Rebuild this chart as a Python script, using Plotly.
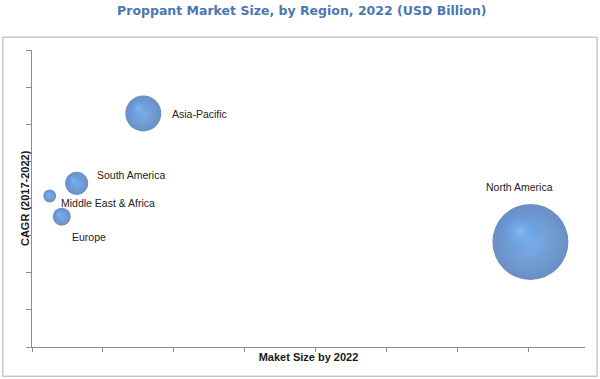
import plotly.graph_objects as go

regions = ["Asia-Pacific", "South America", "Middle East & Africa", "Europe", "North America"]
market_size = [1.57, 0.63, 0.25, 0.42, 7.03]
cagr = [6.29, 4.41, 4.07, 3.51, 2.83]
bubble_size = [36, 23, 13, 18, 76]

# label offsets (px) relative to bubble centre
label_dx = [27, 18, 9, 8, -11]
label_dy = [-1, 8, -7, -20, 55]
label_anchor = ["left", "left", "left", "left", "center"]

X_UNIT = 70.86   # px per x unit
Y_UNIT = 37.09   # px per y unit

fig = go.Figure()

# base spheres (marker.color = edge, gradient.color = centre)
fig.add_trace(go.Scatter(
    x=market_size, y=cagr, mode="markers",
    marker=dict(size=bubble_size, sizemode="diameter", color="#2a5fab",
                gradient=dict(type="radial", color="#418be2"),
                line=dict(width=0)),
    hoverinfo="text", text=regions, showlegend=False))

# highlight
hx = [x - 0.14 * s / X_UNIT for x, s in zip(market_size, bubble_size)]
hy = [y + 0.14 * s / Y_UNIT for y, s in zip(cagr, bubble_size)]
hs = [0.58 * s for s in bubble_size]
fig.add_trace(go.Scatter(
    x=hx, y=hy, mode="markers",
    marker=dict(size=hs, sizemode="diameter", color="rgba(65,139,226,0)",
                gradient=dict(type="radial", color="rgba(135,200,255,0.9)"),
                line=dict(width=0)),
    hoverinfo="skip", showlegend=False))

for r, x, y, dx, dy, anc in zip(regions, market_size, cagr, label_dx, label_dy, label_anchor):
    fig.add_annotation(x=x, y=y, text=r, showarrow=False, xanchor=anc, yanchor="middle",
                       xshift=dx, yshift=dy,
                       font=dict(family="Liberation Sans", size=10.5, color="#222222"))

# y-axis title
fig.add_annotation(xref="paper", yref="paper", x=-0.0135, y=0.5, text="<b>CAGR (2017-2022)</b>",
                   textangle=-90, showarrow=False, xanchor="center", yanchor="middle",
                   font=dict(family="Liberation Sans", size=11, color="#1a1a1a"))

fig.add_shape(type="rect", xref="paper", yref="paper",
              x0=-0.053, x1=1.0217, y0=-0.0988, y1=1.0428,
              line=dict(color="#c9c9c9", width=1.5), fillcolor="rgba(0,0,0,0)", layer="below")

fig.update_layout(
    width=600, height=379,
    margin=dict(l=32.3, r=15, t=50, b=32.3, autoexpand=False),
    paper_bgcolor="white", plot_bgcolor="white",
    title=dict(text="<b>Proppant Market Size, by Region, 2022 (USD Billion)</b>",
               x=0.503, xanchor="center", y=0.984, yanchor="top",
               font=dict(family="DejaVu Sans", size=12.5, color="#4a78b0")),
    xaxis=dict(range=[0, 7.8], dtick=1, tick0=0, showticklabels=False, showgrid=False,
               zeroline=False, showline=True, linecolor="#8c8c8c", linewidth=1,
               ticks="outside", ticklen=4, tickcolor="#8c8c8c", automargin=False,
               title=dict(text="<b>Maket Size by 2022</b>", standoff=2,
                          font=dict(family="Liberation Sans", size=11, color="#1a1a1a"))),
    yaxis=dict(range=[0, 8], dtick=1, tick0=0, showticklabels=False, showgrid=False,
               zeroline=False, showline=True, linecolor="#8c8c8c", linewidth=1,
               ticks="outside", ticklen=5, tickcolor="#8c8c8c", automargin=False),
)

fig.write_html("out.html", config={"displayModeBar": False},
               post_script="document.body.style.margin='0';document.body.style.padding='0';")
